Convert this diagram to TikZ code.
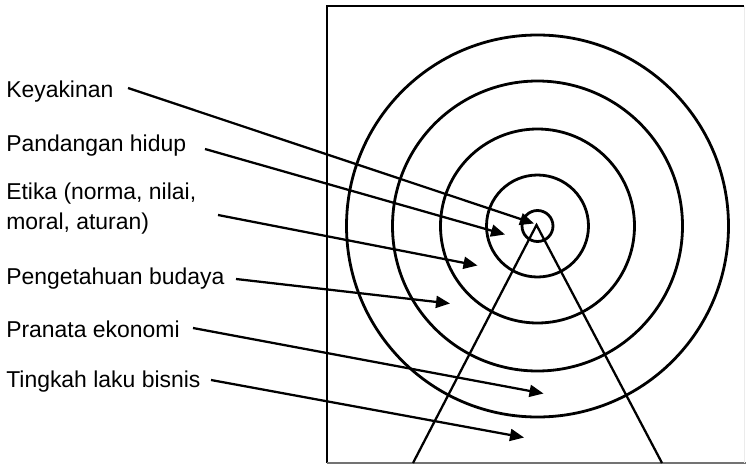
\documentclass[tikz,border=0pt]{standalone}
\usepackage{fontspec}
\setmainfont{Liberation Sans}
\usetikzlibrary{arrows.meta}
\begin{document}
\begin{tikzpicture}[x=0.75pt,y=-0.75pt,
  lbl/.style={anchor=base west,inner sep=0pt,align=left,font=\fontsize{17.2}{18}\selectfont},
  ring/.style={line width=2.1pt},
  arr/.style={line width=1.7pt,-{Triangle[length=10.5pt,width=9pt]}},
  cone/.style={line width=1.7pt}]
\useasboundingbox (0,0) rectangle (746,464);
% frame
\draw[line width=2pt] (744,6) -- (327,6) -- (327,463);
\draw[line width=1.5pt,black!55] (327,463) -- (746,463);
\draw[line width=0.6pt,black!8] (744,6) -- (744,463);
% rings
\coordinate (c) at (537.5,226);
\foreach \r in {15.5,51,97,145,191}{\draw[ring] (c) circle[radius=\r];}
% cone
\coordinate (cl) at (413,463);
\coordinate (cr) at (662,463);
\draw[cone] (cl) -- (536.5,225) -- (cr);
% labels
\node[lbl] (k) at (6,97.3) {Keyakinan};
\node[lbl] (p) at (6,151) {Pandangan hidup};
\node[lbl] (e) at (6,229.5) {Etika (norma, nilai,\\[4.5pt]moral, aturan)};
\node[lbl] (g) at (6,284) {Pengetahuan budaya};
\node[lbl] (r) at (6,337) {Pranata ekonomi};
\node[lbl] (t) at (6,387) {Tingkah laku bisnis};
% arrow start points
\coordinate (ks) at (128,88);
\coordinate (ps) at (205,149);
\coordinate (es) at (218,215);
\coordinate (gs) at (236,279);
\coordinate (rs) at (193,328);
\coordinate (ts) at (211,380);
% arrow tips
\coordinate (kt) at (534,223.5);
\coordinate (pt) at (505,234.5);
\coordinate (et) at (477.5,265.5);
\coordinate (gt) at (450,303.5);
\coordinate (rt) at (543.5,393.5);
\coordinate (tt) at (524,437.5);
\draw[arr] (ks) -- (kt);
\draw[arr] (ps) -- (pt);
\draw[arr] (es) -- (et);
\draw[arr] (gs) -- (gt);
\draw[arr] (rs) -- (rt);
\draw[arr] (ts) -- (tt);
\end{tikzpicture}
\end{document}
